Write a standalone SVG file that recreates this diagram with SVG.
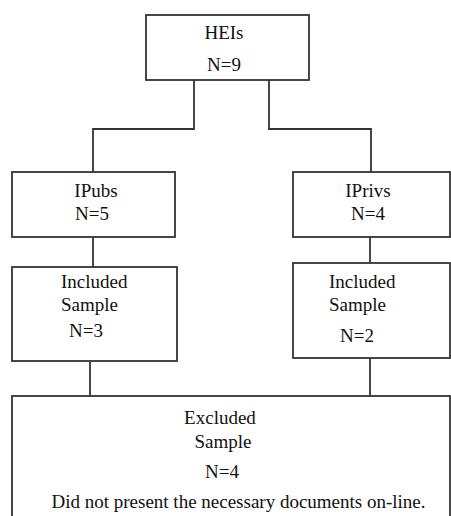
<svg xmlns="http://www.w3.org/2000/svg" width="451" height="516" viewBox="0 0 451 516">
<style>
.box{fill:#fff;stroke:#333;stroke-width:1.8}
.c{fill:none;stroke:#333;stroke-width:1.8}
text{font-family:"Liberation Serif","Times New Roman",serif;font-size:19px;fill:#111}
.m{text-anchor:middle}
</style>
<rect width="451" height="516" fill="#fff"/>
<g id="connectors">
<polyline class="c" points="194,80 194,129 93,129 93,172"/>
<polyline class="c" points="269,80 269,129 371,129 371,172"/>
<line class="c" x1="93" y1="237" x2="93" y2="267"/>
<line class="c" x1="370" y1="237" x2="370" y2="263"/>
<line class="c" x1="90" y1="361" x2="90" y2="396"/>
<line class="c" x1="370" y1="358" x2="370" y2="396"/>
</g>
<g id="heis">
<rect class="box" x="146" y="15" width="163" height="65"/>
<text class="m" x="224" y="39">HEIs</text>
<text class="m" x="224" y="71">N=9</text>
</g>
<g id="ipubs">
<rect class="box" x="12" y="172" width="163" height="65"/>
<text class="m" x="96" y="197">IPubs</text>
<text class="m" x="92" y="220">N=5</text>
</g>
<g id="iprivs">
<rect class="box" x="293" y="172" width="157" height="65"/>
<text class="m" x="368" y="197">IPrivs</text>
<text class="m" x="368" y="220">N=4</text>
</g>
<g id="included-pub">
<rect class="box" x="12" y="267" width="165" height="94"/>
<text x="61" y="288">Included</text>
<text x="61" y="311">Sample</text>
<text x="69" y="337">N=3</text>
</g>
<g id="included-priv">
<rect class="box" x="293" y="263" width="157" height="95"/>
<text x="329" y="288">Included</text>
<text x="329" y="311">Sample</text>
<text x="340" y="342">N=2</text>
</g>
<g id="excluded">
<rect class="box" x="12" y="396" width="438" height="130"/>
<text class="m" x="220" y="424">Excluded</text>
<text class="m" x="223" y="448">Sample</text>
<text class="m" x="222" y="478">N=4</text>
<text class="m" x="238.5" y="508">Did not present the necessary documents on-line.</text>
</g>
</svg>
